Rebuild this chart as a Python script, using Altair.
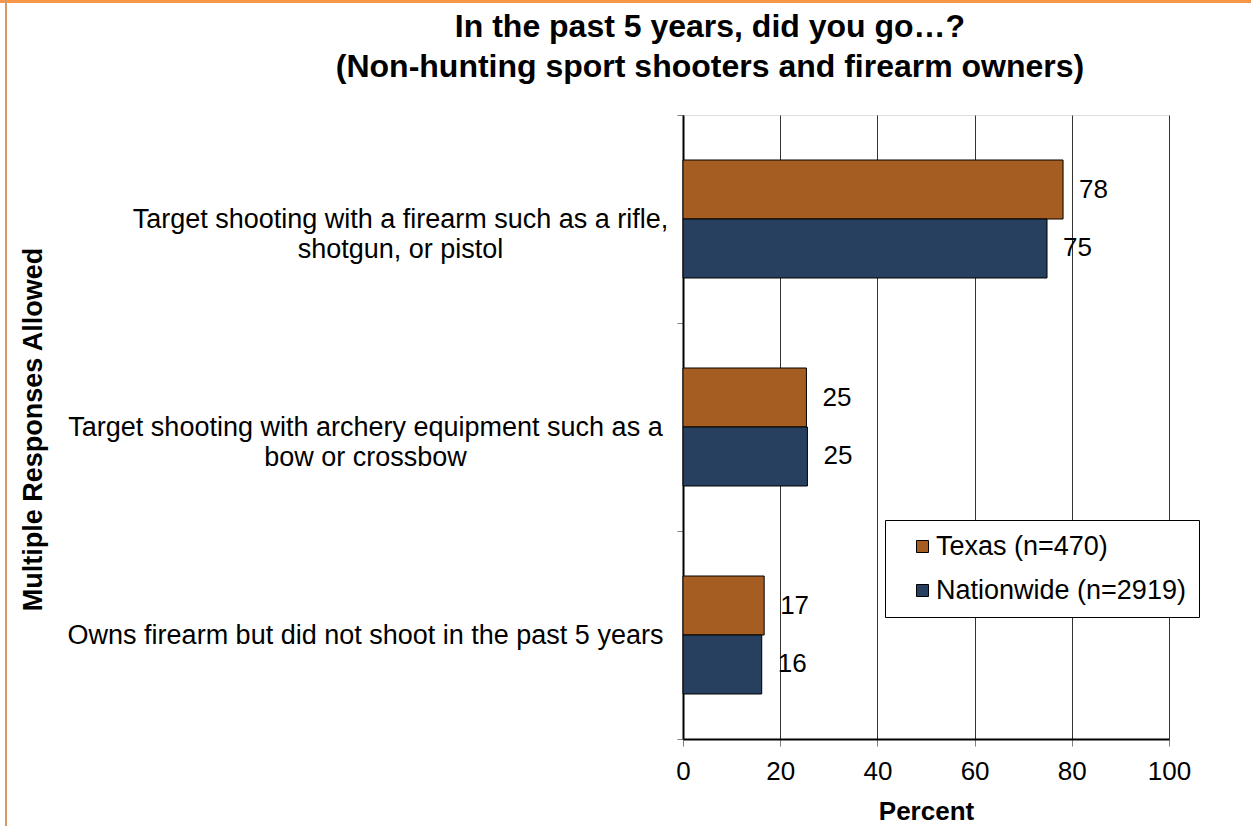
import json
import altair as alt
import pandas as pd

# ---- data ----
categories = [
    "Target shooting with a firearm such as a rifle, shotgun, or pistol",
    "Target shooting with archery equipment such as a bow or crossbow",
    "Owns firearm but did not shoot in the past 5 years",
]
category_lines = [
    ["Target shooting with a firearm such as a rifle,", "shotgun, or pistol"],
    ["Target shooting with archery equipment such as a", "bow or crossbow"],
    ["Owns firearm but did not shoot in the past 5 years"],
]
series = ["Texas (n=470)", "Nationwide (n=2919)"]
texas_values = [78.2, 25.4, 16.7]
nationwide_values = [74.9, 25.6, 16.2]
texas_labels = ["78", "25", "17"]
nationwide_labels = ["75", "25", "16"]
colors = ["#A65D22", "#274060"]
x_ticks = [0, 20, 40, 60, 80, 100]

rows = []
for i, c in enumerate(categories):
    rows.append({"cat": c, "series": series[0], "value": texas_values[i], "label": texas_labels[i]})
    rows.append({"cat": c, "series": series[1], "value": nationwide_values[i], "label": nationwide_labels[i]})
df = pd.DataFrame(rows)

FONT = "Liberation Sans"
W, H = 486, 624
LEFT, TOP = 683, 115

# label expression: wrapped category labels
expr = "datum.value"
for c, lines in zip(reversed(categories), reversed(category_lines)):
    expr = f"datum.value == {json.dumps(c)} ? {json.dumps(lines)} : ({expr})"

pad_cond = {
    "condition": {"test": f"datum.value == {json.dumps(categories[0])}", "value": 277},
    "value": 312,
}

y_enc = alt.Y(
    "cat:N",
    sort=categories,
    scale=alt.Scale(paddingInner=0, paddingOuter=0),
    axis=alt.Axis(
        title="Multiple Responses Allowed",
        titleFont=FONT, titleFontSize=27, titleFontWeight="bold", titleColor="black",
        titleAngle=-90, titleX=-650, titleY=H / 2 + 2, titleAlign="center", titleBaseline="middle",
        labelExpr=expr, labelAlign="center", labelBaseline="middle",
        labelPadding=pad_cond, labelLimit=0,
        labelFont=FONT, labelFontSize=27, labelColor="black", labelLineHeight=30,
        tickBand="extent", tickSize=6, tickColor="#808080",
        domainColor="black", domainWidth=2, grid=False,
    ),
)
x_enc = alt.X(
    "value:Q",
    scale=alt.Scale(domain=[0, 100], nice=False),
    axis=alt.Axis(
        values=x_ticks, title="Percent",
        titleFont=FONT, titleFontSize=26, titleFontWeight="bold", titleColor="black",
        titlePadding=14,
        labelFont=FONT, labelFontSize=26, labelColor="black", labelPadding=12,
        labelFlush=False,
        tickSize=7, tickColor="#808080",
        domainColor="black", domainWidth=2,
        grid=True, gridColor="#333333", gridWidth=1,
    ),
)

base = alt.Chart(df).encode(
    y=y_enc,
    yOffset=alt.YOffset("series:N", sort=series,
                        scale=alt.Scale(paddingInner=0, paddingOuter=0.763)),
    x=x_enc,
)

bars = base.mark_bar(stroke="black", strokeWidth=1).encode(
    color=alt.Color(
        "series:N",
        sort=series,
        scale=alt.Scale(domain=series, range=colors),
        legend=alt.Legend(
            orient="none", legendX=202, legendY=405, title=None,
            fillColor="white", strokeColor="black",
            padding=13, symbolOffset=11, symbolType="square", symbolSize=144,
            symbolStrokeColor="black", symbolStrokeWidth=1,
            labelFont=FONT, labelFontSize=27, labelColor="black", labelOffset=0,
            labelLimit=0, rowPadding=16,
        ),
    )
)

texts = base.mark_text(
    align="left", baseline="middle", dx=16, font=FONT, fontSize=26, color="black"
).encode(text="label:N")

border_top = alt.Chart(df).mark_rule(color="#F79646", strokeWidth=3).encode(
    x=alt.value(-LEFT), x2=alt.value(1251 - LEFT), y=alt.value(-TOP + 1)
)
border_left = alt.Chart(df).mark_rule(color="#D39A67", strokeWidth=2).encode(
    x=alt.value(-LEFT + 6), y=alt.value(-TOP), y2=alt.value(826 - TOP)
)

chart = (
    alt.layer(bars, texts, border_top, border_left)
    .properties(
        width=W,
        height=H,
        autosize=alt.AutoSizeParams(type="none"),
        padding={"left": LEFT, "top": TOP, "right": 1251 - LEFT - W, "bottom": 826 - TOP - H},
        title=alt.TitleParams(
            ["In the past 5 years, did you go\u2026?", "(Non-hunting sport shooters and firearm owners)"],
            font=FONT, fontSize=32, fontWeight="bold", color="black",
            anchor="middle", dx=-216, offset=0, dy=85, lineHeight=40,
        ),
    )
    .configure_view(stroke="black", strokeWidth=2)
    .configure(background="white")
)

chart.save("out.html", embed_options={"renderer": "svg", "actions": False})
